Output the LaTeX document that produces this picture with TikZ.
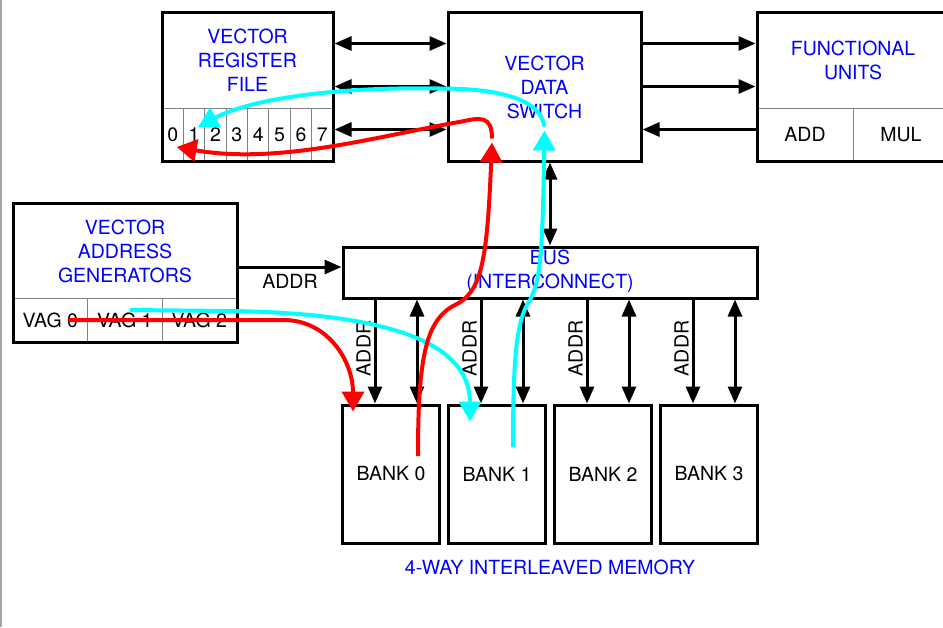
\documentclass[tikz,border=0pt]{standalone}
\usepackage{fontspec}
\setmainfont{TeX Gyre Heros}
\usetikzlibrary{arrows.meta}
\definecolor{aqua}{RGB}{0,255,255}
\definecolor{pureblue}{RGB}{0,0,255}
\definecolor{purered}{RGB}{255,0,0}

\begin{document}
\begin{tikzpicture}[x=1pt,y=-1pt,font=\fontsize{19.5}{24}\selectfont,
    box/.style={draw,line width=3pt,inner sep=0pt},
    cell/.style={draw=gray,line width=1pt,inner sep=0pt},
    title/.style={pureblue,align=center,inner sep=0pt},
    flow/.style={-{Triangle[length=17pt,width=14pt]},line width=3pt},
    both/.style={{Triangle[length=17pt,width=14pt]}-{Triangle[length=17pt,width=14pt]},line width=3pt},
    redp/.style={-{Triangle[length=20pt,width=22pt]},line width=4pt,purered},
    cyanp/.style={-{Triangle[length=20pt,width=22pt]},line width=4pt,aqua}]
  \useasboundingbox (0,0) rectangle (943,627);
  \draw[gray!70,line width=1.5pt] (0.75,0) -- (0.75,627);

  % register file
  \foreach \i in {0,...,7}
    \node[cell,minimum width=21.375,minimum height=53] (reg\i) at ({162+21.375*(\i+0.5)},134.5) {\i};
  \node[box,minimum width=171,minimum height=149] (vrf) at (247.5,86.5) {};
  \node[title] (vrft) at (247.5,60) {VECTOR\\REGISTER\\FILE};

  % data switch and functional units
  \node[box,minimum width=193,minimum height=149] (vds) at (544.5,86.5) {};
  \node[title] (vdst) at (544.5,87) {VECTOR\\DATA\\SWITCH};
  \node[cell,minimum width=96,minimum height=53] (add) at (805,134.5) {ADD};
  \node[cell,minimum width=96,minimum height=53] (mul) at (901,134.5) {MUL};
  \node[box,minimum width=192,minimum height=149] (fu) at (853,86.5) {};
  \node[title] (fut) at (853,60) {FUNCTIONAL\\UNITS};

  % address generators
  \foreach \i in {0,1,2}
    \node[cell,minimum width=74.5,minimum height=44] (vag\i) at ({13+74.5*(\i+0.5)},320) {VAG \i};
  \node[box,minimum width=224,minimum height=139] (vag) at (125,272.5) {};
  \node[title] (vagt) at (125,251) {VECTOR\\ADDRESS\\GENERATORS};

  % bus and memory
  \node[box,minimum width=414,minimum height=51] (bus) at (550,272.5) {};
  \node[title] (bust) at (550,271) {BUS\\(INTERCONNECT)};
  \foreach \i in {0,...,3}
    \node[box,minimum width=97,minimum height=138] (bank\i) at ({391+106*\i},474) {BANK \i};
  \node[title] (mem) at (550,567) {4-WAY INTERLEAVED MEMORY};

  % black connectors
  \foreach \dy in {43,0,-43}
    \draw[both] ([yshift=\dy]vrf.east) -- ([yshift=\dy]vds.west);
  \foreach \dy in {43,0}
    \draw[flow] ([yshift=\dy]vds.east) -- ([yshift=\dy]fu.west);
  \draw[flow] ([yshift=-43]fu.west) -- ([yshift=-43]vds.east);
  \draw[both] (bus.north |- vds.south) -- (bus.north);
  \draw[flow] ([yshift=5.5pt]vag.east) -- node[below=2pt] (addrl) {ADDR} ([yshift=5.5pt]bus.west);
  \foreach \i in {0,...,3} {
    \coordinate (a\i) at ([xshift=-16pt]bank\i.north);
    \coordinate (d\i) at ([xshift=26pt]bank\i.north);
    \draw[flow] (a\i |- bus.south) -- node[pos=0.47,anchor=south,rotate=90,inner sep=3pt] {ADDR} (a\i);
    \draw[both] (d\i |- bus.south) -- (d\i);
  }

  % cyan path
  \coordinate (ca) at ([xshift=5pt,yshift=10pt]vag1.center);
  \coordinate (cae) at ([xshift=-27pt,yshift=-18pt]bank1.north);
  \coordinate (cb) at ([xshift=16pt,yshift=27pt]bank1.center);
  \coordinate (ct) at ([yshift=32pt]vds.south);
  \coordinate (cc) at ([yshift=4pt]ct);
  \coordinate (cv) at ([xshift=4pt,yshift=7.5pt]reg1.center);
  \draw[cyanp] (ca) -- ++(100,1) .. controls +(150,2) and +(0,-82) .. (cae);
  \draw[cyanp] (cb) .. controls +(0,-87) and +(-14,20) .. ++(17,-147)
    .. controls +(10,-20) and +(-2,130) .. (ct);
  \draw[cyanp] (cc) .. controls +(-4,-27) and +(60,0) .. ++(-104,-38)
    .. controls +(-110,-2) and +(50,-27) .. (cv);

  % red path
  \coordinate (r0) at ([xshift=18pt]vag0.center);
  \coordinate (r0e) at ([xshift=-38pt,yshift=-8pt]bank0.north);
  \coordinate (rb) at ([xshift=27pt,yshift=18pt]bank0.center);
  \coordinate (rt) at ([xshift=-52.5pt,yshift=20pt]vds.south);
  \coordinate (rc) at ([yshift=4pt]rt);
  \coordinate (rv) at ([xshift=4pt,yshift=-12.5pt]reg0.center);
  \draw[redp] (r0) -- ++(215,0) .. controls +(45,0) and +(0,-50) .. (r0e);
  \draw[redp] (rb) .. controls +(0,-96) and +(-30,15) .. ++(37,-151)
    .. controls +(27,-13) and +(-5,118) .. (rt);
  \draw[redp] (rc) .. controls +(0,-23) and +(18,-4) .. ++(-30,-17)
    .. controls +(-82,14) and +(103,18) .. (rv);
\end{tikzpicture}
\end{document}
